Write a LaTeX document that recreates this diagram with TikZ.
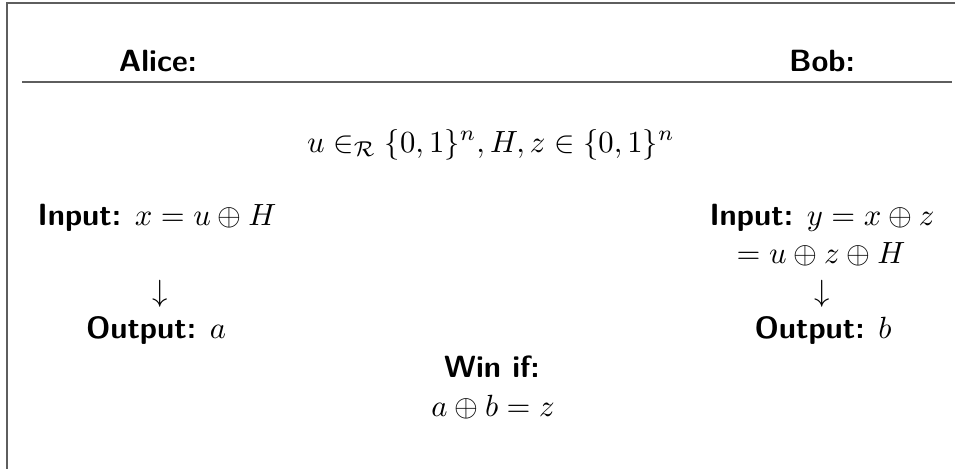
\documentclass[tikz,border=0pt]{standalone}
\usepackage{amsmath}
\usepackage{xcolor}
\usepackage{tikz}
\definecolor{FrameGray}{HTML}{5E5E5E}

\begin{document}
\begin{tikzpicture}[
    x=0.326pt, y=-0.326pt,
    txt/.style={anchor=base, inner sep=0pt},
    lbl/.style={txt, font=\sffamily\bfseries},
    rule/.style={draw=FrameGray, line width=0.6pt}
  ]
    \clip (0,0) rectangle (955,468);
    \draw[rule] (7,3) rectangle (975,485);

    % header
    \node[lbl] (alice) at (158,71) {Alice:};
    \node[lbl] (bob) at (822,71) {Bob:};
    \coordinate (sepL) at (22,82);
    \coordinate (sepR) at (952,82);
    \draw[rule] (sepL) -- (sepR);

    \node[txt] (shared) at (491,152) {$u \in_{\mathcal{R}} \{0,1\}^n, H, z \in \{0,1\}^n$};

    % Alice
    \node[txt] (inA) at (157,225) {\textsf{\bfseries Input:} $x = u \oplus H$};
    \node[txt] (arrA) at (160,301) {$\downarrow$};
    \node[txt] (outA) at (156,338) {\textsf{\bfseries Output:} $a$};

    % Bob
    \node[txt] (inB) at (822,225) {\textsf{\bfseries Input:} $y = x \oplus z$};
    \node[txt] (inBb) at (821,263) {$= u \oplus z \oplus H$};
    \node[txt] (arrB) at (822,301) {$\downarrow$};
    \node[txt] (outB) at (823,338) {\textsf{\bfseries Output:} $b$};

    % condition
    \node[lbl] (win) at (492,377) {Win if:};
    \node[txt] (cond) at (493,416) {$a \oplus b = z$};
\end{tikzpicture}
\end{document}
